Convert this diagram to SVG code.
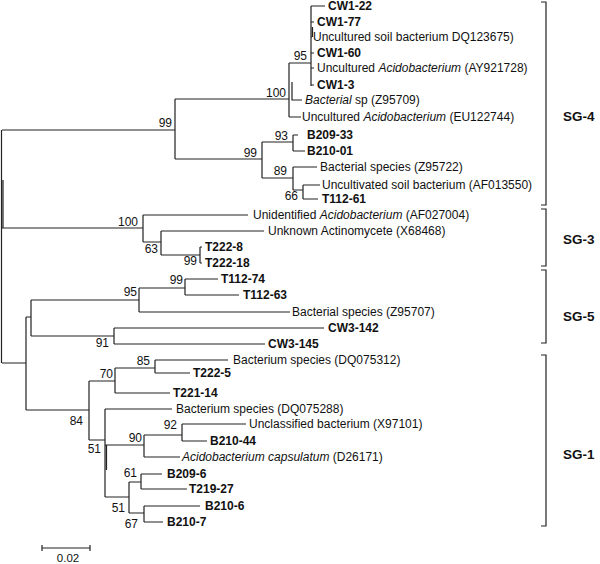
<svg xmlns="http://www.w3.org/2000/svg" width="600" height="564" viewBox="0 0 600 564">
<style>
text{font-family:"Liberation Sans",Arial,sans-serif;font-size:12px;fill:#111}
.b{font-weight:bold}
.i{font-style:italic}
.bs{text-anchor:end}
.sg{font-weight:bold;font-size:13.5px}
.br path,#connectors path{fill:none;stroke:#222;stroke-width:1.2}
</style>
<rect width="600" height="564" fill="#fff"/>
<g id="connectors">
<path d="M1.5,130V363M3,180V228"/>
<path d="M2,130H175M175,99V159M175,99H289M289,63V117M289,63H311M311,6V86M311,6H325M312.5,27V37M311,22H314M311,37H312M311,53H314M311,68H314M311,85H314M292,82V100H302M289,117H301"/>
<path d="M175,159H262M262,142V178M262,142H293M293,135V151M293,135H298M293,151H305M262,178H293M293,167V190M293,167H317M293,190H303M303,185V199M303,185H320M303,199H318"/>
<path d="M2,228H143M143,215V242M143,215H248M143,242H161M161,231V255M161,231H264M161,255H200M200,247V263M200,247H202M200,263H202"/>
<path d="M2,363H26M26,317V410M26,317H31M31,300V336M31,300H139M139,288V312M139,288H185M185,279V295M185,279H218M185,295H239M139,312H290M31,336H114M114,328V344M114,328H324M114,344H265"/>
<path d="M26,410H89M89,381V440M89,381H115M115,368V393M115,368H155M155,360V373M155,360H228M155,373H190M115,393H170M89,440H105M105,409V497M106.5,445V470M105,409H172M105,445H144M144,435V457M144,435H182M182,424V441M182,424H246M182,441H207M144,457H180M105,497H129M129,482V513M129,482H141M141,474V489M141,474H162M141,489H187M129,513H144M144,506V522M144,506H200M144,522H163"/>
</g>
<g id="leaves">
<g id="n-cw1-22"><text class="b" x="328" y="10">CW1-22</text></g>
<g id="n-cw1-77"><text class="b" x="317" y="26">CW1-77</text></g>
<g id="n-dq123675"><text x="313" y="41">Uncultured soil bacterium DQ123675)</text></g>
<g id="n-cw1-60"><text class="b" x="317" y="57">CW1-60</text></g>
<g id="n-ay921728"><text x="317" y="72">Uncultured <tspan class="i">Acidobacterium</tspan> (AY921728)</text></g>
<g id="n-cw1-3"><text class="b" x="317" y="89">CW1-3</text></g>
<g id="n-z95709"><text x="305" y="104"><tspan class="i">Bacterial</tspan> sp (Z95709)</text></g>
<g id="n-eu122744"><text x="302" y="121">Uncultured <tspan class="i">Acidobacterium</tspan> (EU122744)</text></g>
<g id="n-b209-33"><text class="b" x="307" y="139">B209-33</text></g>
<g id="n-b210-01"><text class="b" x="307" y="155">B210-01</text></g>
<g id="n-z95722"><text x="320" y="171">Bacterial species (Z95722)</text></g>
<g id="n-af013550"><text x="322" y="189">Uncultivated soil bacterium (AF013550)</text></g>
<g id="n-t112-61"><text class="b" x="322" y="203">T112-61</text></g>
<g id="n-af027004"><text x="253" y="219">Unidentified <tspan class="i">Acidobacterium</tspan> (AF027004)</text></g>
<g id="n-x68468"><text x="268" y="235">Unknown Actinomycete (X68468)</text></g>
<g id="n-t222-8"><text class="b" x="205" y="251">T222-8</text></g>
<g id="n-t222-18"><text class="b" x="205" y="267">T222-18</text></g>
<g id="n-t112-74"><text class="b" x="221" y="283">T112-74</text></g>
<g id="n-t112-63"><text class="b" x="243" y="299">T112-63</text></g>
<g id="n-z95707"><text x="292" y="316">Bacterial species (Z95707)</text></g>
<g id="n-cw3-142"><text class="b" x="328" y="332">CW3-142</text></g>
<g id="n-cw3-145"><text class="b" x="268" y="348">CW3-145</text></g>
<g id="n-dq075312"><text x="233" y="364">Bacterium species (DQ075312)</text></g>
<g id="n-t222-5"><text class="b" x="193" y="377">T222-5</text></g>
<g id="n-t221-14"><text class="b" x="173" y="397">T221-14</text></g>
<g id="n-dq075288"><text x="176" y="413">Bacterium species (DQ075288)</text></g>
<g id="n-x97101"><text x="249" y="428">Unclassified bacterium (X97101)</text></g>
<g id="n-b210-44"><text class="b" x="210" y="445">B210-44</text></g>
<g id="n-d26171"><text x="182" y="461"><tspan class="i">Acidobacterium capsulatum</tspan> (D26171)</text></g>
<g id="n-b209-6"><text class="b" x="167" y="478">B209-6</text></g>
<g id="n-t219-27"><text class="b" x="189" y="493">T219-27</text></g>
<g id="n-b210-6"><text class="b" x="205" y="510">B210-6</text></g>
<g id="n-b210-7"><text class="b" x="167" y="526">B210-7</text></g>
</g>
<g id="bootstrap">
<text class="bs" x="172" y="127">99</text>
<text class="bs" x="286" y="97">100</text>
<text class="bs" x="307" y="60">95</text>
<text class="bs" x="257" y="157">99</text>
<text class="bs" x="288" y="140">93</text>
<text class="bs" x="287" y="175">89</text>
<text class="bs" x="298" y="200">66</text>
<text class="bs" x="138" y="226">100</text>
<text class="bs" x="158" y="253">63</text>
<text class="bs" x="197" y="265">99</text>
<text class="bs" x="137" y="296">95</text>
<text class="bs" x="183" y="284">99</text>
<text class="bs" x="109" y="347">91</text>
<text class="bs" x="150" y="365">85</text>
<text class="bs" x="113" y="378">70</text>
<text class="bs" x="83" y="425">84</text>
<text class="bs" x="101" y="453">51</text>
<text class="bs" x="142" y="442">90</text>
<text class="bs" x="177" y="429">92</text>
<text class="bs" x="137" y="477">61</text>
<text class="bs" x="125" y="512">51</text>
<text class="bs" x="138" y="528">67</text>
</g>
<g class="br" id="groups">
<g id="sg4"><path d="M541,2H546V205H541"/><text class="sg" x="563" y="121">SG-4</text></g>
<g id="sg3"><path d="M541,209H546V266H541"/><text class="sg" x="563" y="244">SG-3</text></g>
<g id="sg5"><path d="M541,270H546V343H541"/><text class="sg" x="563" y="321">SG-5</text></g>
<g id="sg1"><path d="M541,355H546V526H541"/><text class="sg" x="563" y="459">SG-1</text></g>
</g>
<g id="scale" class="br">
<path d="M42,548H90M42,545V551M90,545V551"/>
<text x="68" y="562" style="font-size:11.5px" text-anchor="middle">0.02</text>
</g>
</svg>
